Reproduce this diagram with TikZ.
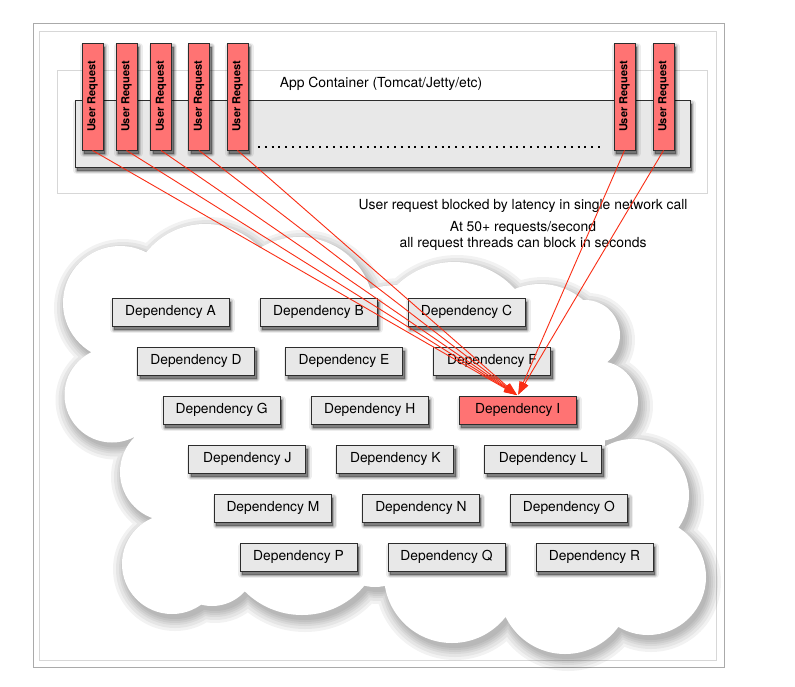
\documentclass[tikz,border=0pt]{standalone}
\usepackage{fontspec}
\usepackage{graphicx}
\setmainfont{TeX Gyre Heros}
\usetikzlibrary{arrows.meta}
\definecolor{boxgray}{RGB}{232,232,232}
\definecolor{reqred}{RGB}{255,115,115}
\definecolor{edgegray}{RGB}{45,45,45}
\definecolor{linered}{RGB}{250,45,20}
\definecolor{framegray}{RGB}{170,170,170}
\definecolor{framelight}{RGB}{215,215,215}
\newcommand\cloudcircles[1]{%
  \foreach \cx/\cy/\r in {120/303/57, 205/299/75, 299/312/75, 454/344/82,
     540/350/66, 585/335/35, 598/401/40, 633/495/56, 648/577/58, 565/588/66,
     452/575/68, 302/534/81, 172/564/50, 212/562/44, 169/472/49, 112/395/47.5,
     400/400/115, 250/400/120, 510/440/95, 350/500/85, 500/520/90, 600/520/60,
     230/520/60, 170/360/50, 375/545/42}{ (\cx,\cy) circle[radius=\r+#1] }}
\tikzset{
  softshadow/.style={
    preaction={fill=black,fill opacity=0.38,transform canvas={shift={(2pt,-3.5pt)}}},
    preaction={draw=black,draw opacity=0.18,line width=2pt,line join=round,transform canvas={shift={(2pt,-3.5pt)}}},
    preaction={draw=black,draw opacity=0.12,line width=4.5pt,line join=round,transform canvas={shift={(2pt,-3.5pt)}}},
    preaction={draw=black,draw opacity=0.07,line width=7.5pt,line join=round,transform canvas={shift={(2pt,-3.5pt)}}}},
  depbox/.style={draw=edgegray, line width=0.9pt, fill=boxgray, minimum width=117pt,
    minimum height=28pt, inner sep=0pt, font=\fontsize{13.8}{16}\selectfont, softshadow},
  hotbox/.style={depbox, fill=reqred},
  reqbox/.style={draw=edgegray, line width=0.9pt, fill=reqred, minimum width=21pt,
    minimum height=107pt, inner sep=0pt, font=\bfseries\fontsize{11}{12}\selectfont, softshadow},
  poolbox/.style={draw=edgegray, line width=0.9pt, fill=boxgray, minimum width=615pt,
    minimum height=67pt, inner sep=0pt, softshadow},
  appframe/.style={draw=framelight, line width=0.8pt, minimum width=650pt, minimum height=123pt, inner sep=0pt},
  plaintext/.style={font=\fontsize{13.9}{16}\selectfont, align=center, inner sep=0pt},
  reqline/.style={draw=linered, line width=0.9pt, -{Triangle[length=13pt,width=8pt]}, shorten >=1pt},
  dotline/.style={line width=2pt, dash pattern=on 2pt off 4.8pt, black}
}
\begin{document}
\begin{tikzpicture}[x=1pt,y=-1pt]
\useasboundingbox (0,0) rectangle (795,686);
\fill[white] (0,0) rectangle (795,686);
% frames
\draw[framegray, line width=0.9pt] (33,23) rectangle (724,667);
\draw[framelight, line width=0.9pt] (39.5,31) rectangle (716,660);
% cloud shadow and body
\foreach \d in {12,9,6,4,2,0}{
  \fill[black, fill opacity=0.05, shift={(3,5)}] \cloudcircles{\d};
}
\fill[white] \cloudcircles{0};
% app container
\node[appframe] (appc) at (382,131.5) {};
\node[plaintext] (applabel) at (381,84) {App Container (Tomcat/Jetty/etc)};
\node[poolbox] (pool) at (382.5,133.5) {};
\coordinate (dotsL) at (258,147);
\coordinate (dotsR) at (604,147);
\draw[dotline] (dotsL) -- (dotsR);
% user requests
\node[reqbox] (u1) at (92.5,96.5) {\rotatebox{90}{User Request}};
\node[reqbox] (u2) at (126.5,96.5) {\rotatebox{90}{User Request}};
\node[reqbox] (u3) at (161,96.5) {\rotatebox{90}{User Request}};
\node[reqbox] (u4) at (199,96.5) {\rotatebox{90}{User Request}};
\node[reqbox] (u5) at (237.5,96.5) {\rotatebox{90}{User Request}};
\node[reqbox] (u6) at (624.5,96.5) {\rotatebox{90}{User Request}};
\node[reqbox] (u7) at (663.5,96.5) {\rotatebox{90}{User Request}};
% notes
\node[plaintext] (note1) at (523,206) {User request blocked by latency in single network call};
\node[plaintext] (note2) at (523,235.5) {At 50+ requests/second\\all request threads can block in seconds};
% dependencies
\node[depbox] (dA) at (170.5,312) {Dependency A};
\node[depbox] (dB) at (318.5,312) {Dependency B};
\node[depbox] (dC) at (466.5,312) {Dependency C};
\node[depbox] (dD) at (196,361) {Dependency D};
\node[depbox] (dE) at (344,361) {Dependency E};
\node[depbox] (dF) at (492,361) {Dependency F};
\node[depbox] (dG) at (221.7,410) {Dependency G};
\node[depbox] (dH) at (369.7,410) {Dependency H};
\node[hotbox] (dI) at (517.7,410) {Dependency I};
\node[depbox] (dJ) at (247.3,459) {Dependency J};
\node[depbox] (dK) at (395.3,459) {Dependency K};
\node[depbox] (dL) at (543.3,459) {Dependency L};
\node[depbox] (dM) at (272.9,508) {Dependency M};
\node[depbox] (dN) at (420.9,508) {Dependency N};
\node[depbox] (dO) at (568.9,508) {Dependency O};
\node[depbox] (dP) at (298.5,557) {Dependency P};
\node[depbox] (dQ) at (446.5,557) {Dependency Q};
\node[depbox] (dR) at (594.5,557) {Dependency R};
% connectors
\foreach \u in {u1,u2,u3,u4,u5,u6,u7}{
  \draw[reqline] (\u.south) -- (dI.north);
}
\end{tikzpicture}
\end{document}
